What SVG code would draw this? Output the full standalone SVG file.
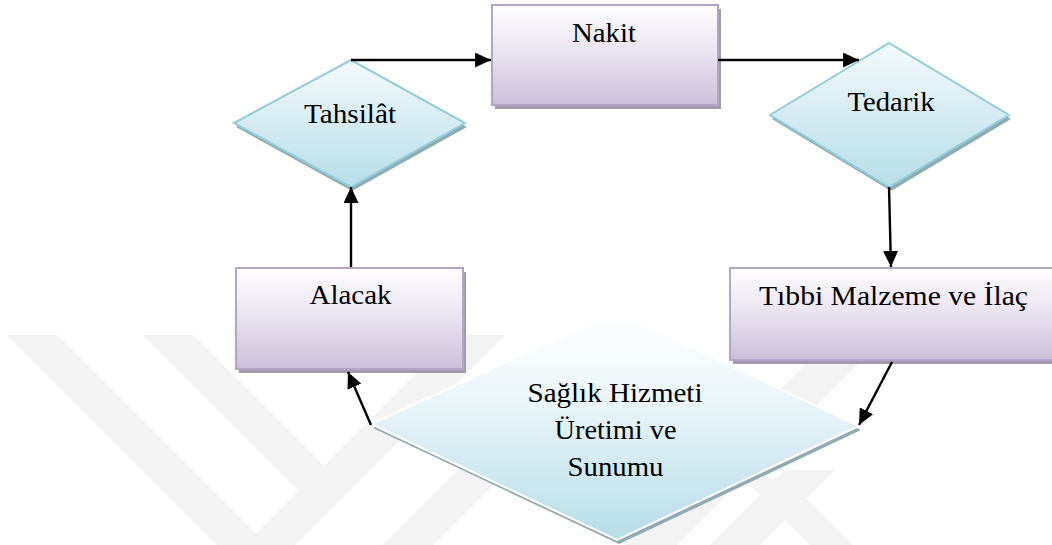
<svg xmlns="http://www.w3.org/2000/svg" width="1052" height="545" viewBox="0 0 1052 545">
  <defs>
    <linearGradient id="boxFill" x1="0" y1="0" x2="0" y2="1">
      <stop offset="0" stop-color="#fefdff"/>
      <stop offset="0.45" stop-color="#ebe5f1"/>
      <stop offset="1" stop-color="#cbbfd9"/>
    </linearGradient>
    <linearGradient id="diamondFill" x1="0" y1="0" x2="0" y2="1">
      <stop offset="0" stop-color="#f4fafc"/>
      <stop offset="1" stop-color="#b6dde8"/>
    </linearGradient>
    <linearGradient id="bigDiamondFill" x1="0" y1="0" x2="0" y2="1">
      <stop offset="0" stop-color="#ffffff"/>
      <stop offset="0.35" stop-color="#eef7fa"/>
      <stop offset="1" stop-color="#b6dde8"/>
    </linearGradient>
    <marker id="arrow" markerUnits="userSpaceOnUse" markerWidth="17" markerHeight="15" refX="16" refY="7.5" orient="auto">
      <path d="M0,0 L16,7.5 L0,15 z" fill="#000"/>
    </marker>
    <style>
      .box { fill: url(#boxFill); stroke: #b4a4c8; stroke-width: 2; }
      .box-shadow { fill: #a39bab; }
      .diamond { fill: url(#diamondFill); stroke: #92cddc; stroke-width: 2; }
      .big-diamond { fill: url(#bigDiamondFill); stroke: #ffffff; stroke-width: 2; }
      .diamond-shadow { fill: #8fabb4; }
      .label { font-size: 28px; fill: #000; text-anchor: middle; }
      .link { fill: none; stroke: #000; stroke-width: 2.4; marker-end: url(#arrow); }
      .mark { fill: #f3f3f3; }
    </style>
  </defs>

  <rect width="1052" height="545" fill="#ffffff"/>

  <!-- faint background stripes -->
  <g id="background-stripes">
    <polygon class="mark" points="7,335 57,335 267,545 217,545"/>
    <polygon class="mark" points="143,335 193,335 324,466 299,491"/>
    <polygon class="mark" points="455,335 505,335 295,545 245,545"/>
    <polygon class="mark" points="528,400 578,400 433,545 383,545"/>
    <polygon class="mark" points="835,335 887,335 677,545 625,545"/>
    <polygon class="mark" points="785,470 835,470 760,545 710,545"/>
    <polygon class="mark" points="743,478 786,478 853,545 810,545"/>
  </g>

  <g id="node-nakit">
    <rect class="box-shadow" x="495" y="9" width="226" height="100"/>
    <rect class="box" x="492" y="5" width="226" height="100"/>
    <text class="label" font-family="'Liberation Serif', serif" x="604" y="42" textLength="64" lengthAdjust="spacingAndGlyphs">Nakit</text>
  </g>

  <g id="node-tahsilat">
    <polygon class="diamond-shadow" points="236,127 352,64 467,127 352,191"/>
    <polygon class="diamond" points="234,123 351,60 465,123 351,187"/>
    <text class="label" font-family="'Liberation Serif', serif" x="350" y="123" textLength="92" lengthAdjust="spacingAndGlyphs">Tahsilât</text>
  </g>

  <g id="node-tedarik">
    <polygon class="diamond-shadow" points="772,119 891,47 1011,119 891,191"/>
    <polygon class="diamond" points="770,115 889,43 1009,115 889,187"/>
    <text class="label" font-family="'Liberation Serif', serif" x="891" y="111" textLength="87" lengthAdjust="spacingAndGlyphs">Tedarik</text>
  </g>

  <g id="node-alacak">
    <rect class="box-shadow" x="239" y="272" width="227" height="101"/>
    <rect class="box" x="236" y="268" width="227" height="101"/>
    <text class="label" font-family="'Liberation Serif', serif" x="350.5" y="304" textLength="82" lengthAdjust="spacingAndGlyphs">Alacak</text>
  </g>

  <g id="node-tibbi">
    <rect class="box-shadow" x="733" y="272" width="330" height="92"/>
    <rect class="box" x="730" y="268" width="330" height="92"/>
    <text class="label" font-family="'Liberation Serif', serif" x="893.5" y="305" textLength="269" lengthAdjust="spacingAndGlyphs">Tıbbi Malzeme ve İlaç</text>
  </g>

  <g id="node-saglik">
    <polygon class="diamond-shadow" points="373,428 618,316 861,430 619,544"/>
    <polygon class="big-diamond" points="371,424 616,312 859,426 617,540"/>
    <text class="label" font-family="'Liberation Serif', serif" x="615" y="402" textLength="175" lengthAdjust="spacingAndGlyphs">Sağlık Hizmeti</text>
    <text class="label" font-family="'Liberation Serif', serif" x="615.5" y="439" textLength="122" lengthAdjust="spacingAndGlyphs">Üretimi ve</text>
    <text class="label" font-family="'Liberation Serif', serif" x="615.5" y="476" textLength="96" lengthAdjust="spacingAndGlyphs">Sunumu</text>
  </g>

  <g id="connectors">
    <line class="link" x1="351" y1="60" x2="491" y2="60"/>
    <line class="link" x1="718" y1="60" x2="859" y2="60"/>
    <line class="link" x1="889" y1="187" x2="891" y2="267"/>
    <line class="link" x1="892" y1="362" x2="859" y2="425"/>
    <line class="link" x1="371" y1="425" x2="348" y2="372"/>
    <line class="link" x1="351" y1="267" x2="351" y2="187"/>
  </g>
</svg>
